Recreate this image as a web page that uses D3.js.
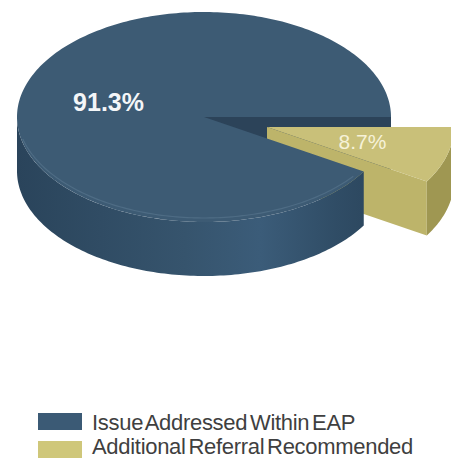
<!DOCTYPE html>
<html>
<head>
<meta charset="utf-8">
<script src="https://cdn.jsdelivr.net/npm/d3@7"></script>
<style>
  body { margin: 0; background: #fff; }
  svg { display: block; font-family: "Liberation Sans", Arial, sans-serif; }
</style>
</head>
<body>
<div id="vis"></div>
<script>
// data
var categories = ["Issue Addressed Within EAP", "Additional Referral Recommended"];
var values = [91.3, 8.7];
var labels = ["91.3%", "8.7%"];
var topColors = ["#3d5b74", "#c9c079"];
var legendColors = ["#3b5a75", "#cfc77a"];

var width = 451, height = 464;
var cx = 204, cy = 117, rx = 187, ry = 105, depth = 54;
var explode = [0, 0.35];   // fraction of radius each slice is pulled out

var svg = d3.select("#vis").append("svg")
    .attr("width", width)
    .attr("height", height);

var defs = svg.append("defs");
var g1 = defs.append("linearGradient").attr("id", "blueSide")
    .attr("gradientUnits", "userSpaceOnUse")
    .attr("x1", cx - rx).attr("x2", cx + rx).attr("y1", 0).attr("y2", 0);
g1.append("stop").attr("offset", "0%").attr("stop-color", "#2a445b");
g1.append("stop").attr("offset", "45%").attr("stop-color", "#36546d");
g1.append("stop").attr("offset", "65%").attr("stop-color", "#3b5c79");
g1.append("stop").attr("offset", "85%").attr("stop-color", "#304d66");
g1.append("stop").attr("offset", "100%").attr("stop-color", "#2a445b");

// pie: blue first, yellow ends up between 3 o'clock and a bit below it
var total = d3.sum(values);
var s = Math.PI / 2 + (values[1] / total) * 2 * Math.PI;
var pie = d3.pie().sort(null).startAngle(s).endAngle(s + 2 * Math.PI);
var arcs = pie(values);

function pt(a, k, ox, oy, dz) {
  return [ox + cx + rx * k * Math.sin(a), oy + cy - ry * k * Math.cos(a) + (dz || 0)];
}
function offset(d, i) {
  var m = (d.startAngle + d.endAngle) / 2;
  return [rx * explode[i] * Math.sin(m), -ry * explode[i] * Math.cos(m)];
}
function arcPoints(a0, a1, ox, oy, dz) {
  var n = Math.max(2, Math.ceil(Math.abs(a1 - a0) / 0.02));
  return d3.range(n + 1).map(function(j) { return pt(a0 + (a1 - a0) * j / n, 1, ox, oy, dz); });
}
var line = d3.line();

function topPath(d, i) {
  var o = offset(d, i);
  var p = [pt(0, 0, o[0], o[1])].concat(arcPoints(d.startAngle, d.endAngle, o[0], o[1]));
  return line(p) + "Z";
}
function sidePath(d, i) {
  var o = offset(d, i);
  // front half is where -cos(a) > 0, i.e. a in (pi/2, 3pi/2) (mod 2pi)
  var out = [];
  [0, 2 * Math.PI, 4 * Math.PI].forEach(function(sh) {
    var a0 = Math.max(d.startAngle, Math.PI / 2 + sh);
    var a1 = Math.min(d.endAngle, 3 * Math.PI / 2 + sh);
    if (a1 - a0 > 0.001) {
      var t = arcPoints(a0, a1, o[0], o[1]);
      var b = arcPoints(a1, a0, o[0], o[1], depth);
      out.push(line(t.concat(b)) + "Z");
    }
  });
  return out.join("");
}
function radialPath(d, i, a) {
  var o = offset(d, i);
  var c = pt(0, 0, o[0], o[1]), e = pt(a, 1, o[0], o[1]);
  return line([c, e, [e[0], e[1] + depth], [c[0], c[1] + depth]]) + "Z";
}

var blue = arcs[0], yel = arcs[1];

// blue cut face at its end (3 o'clock), seen through the gap
svg.append("path").attr("d", radialPath(blue, 0, blue.endAngle)).attr("fill", "#2c4359");

// yellow slice: cut face toward the viewer, outer side, top
svg.append("path").attr("d", radialPath(yel, 1, yel.endAngle)).attr("fill", "#bdb46a");
svg.append("path").attr("d", sidePath(yel, 1)).attr("fill", "#9f9752");
svg.append("path").attr("d", topPath(yel, 1)).attr("fill", topColors[1]);

// blue slice
svg.append("path").attr("d", sidePath(blue, 0)).attr("fill", "url(#blueSide)");
svg.append("path").attr("d", topPath(blue, 0)).attr("fill", topColors[0]);
// faint rim highlight just inside the front edge of the top
svg.append("path")
    .attr("d", line(arcPoints(blue.startAngle + 0.1, 3 * Math.PI / 2 - 0.25, 0, 0, -4)))
    .attr("fill", "none").attr("stroke", "#56748c").attr("stroke-width", 1.2).attr("opacity", 0.7);

// labels
arcs.forEach(function(d, i) {
  var o = offset(d, i), m = (d.startAngle + d.endAngle) / 2;
  var p = pt(m, 0.53, o[0], o[1]);
  svg.append("text")
      .attr("x", p[0]).attr("y", p[1])
      .attr("text-anchor", "middle")
      .attr("dominant-baseline", "central")
      .attr("font-size", i === 0 ? 25 : 21)
      .attr("font-weight", i === 0 ? "bold" : "normal")
      .attr("fill", i === 0 ? "#f4f6f8" : "#f6f2d8")
      .text(labels[i]);
});

// legend
var leg = svg.append("g").attr("transform", "translate(38,413)");
categories.forEach(function(c, i) {
  leg.append("rect").attr("x", 0).attr("y", i * 28).attr("width", 44).attr("height", 17)
      .attr("fill", legendColors[i]);
  leg.append("text").attr("x", 54).attr("y", i * 24 + 17)
      .attr("font-size", 22).attr("fill", "#3f3f3f")
      .attr("letter-spacing", -0.3).attr("word-spacing", -3)
      .text(c);
});
</script>
</body>
</html>
